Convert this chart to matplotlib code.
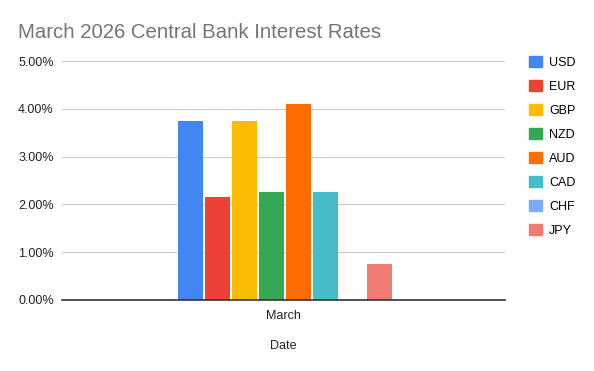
import matplotlib.pyplot as plt
import matplotlib.patches as mpatches
from matplotlib.ticker import FuncFormatter

plt.rcParams['font.family'] = ['Liberation Sans', 'DejaVu Sans']

currencies = ['USD', 'EUR', 'GBP', 'NZD', 'AUD', 'CAD', 'CHF', 'JPY']
rates = [3.75, 2.15, 3.75, 2.25, 4.10, 2.25, 0.0, 0.75]
colors = ['#4285F4', '#EA4335', '#FBBC04', '#34A853', '#FF6D01', '#46BDC6', '#7BAAF7', '#F07B72']
categories = ['March']

fig = plt.figure(figsize=(5.94, 3.71), dpi=100)
W, H = 594, 371
ax = fig.add_axes([62 / W, 1 - 300 / H, (505 - 62) / W, (300 - 61) / H])

slot = 0.1
bar_w = slot * 25 / 27
for i, (cur, r, c) in enumerate(zip(currencies, rates, colors)):
    ax.bar(0 + (i - 3.5) * slot + 0.004, r, bar_w, color=c, label=cur, zorder=3)

half = (443 / 2) / 27 * slot
ax.set_xlim(-half, half)
ax.set_ylim(0, 5)
ax.set_yticks([0, 1, 2, 3, 4, 5])
ax.yaxis.set_major_formatter(FuncFormatter(lambda v, p: '%.2f%%' % v))
ax.set_xticks([0])
ax.set_xticklabels(categories)
ax.grid(axis='y', color='#cccccc', linewidth=0.8, zorder=0)
for s in ['top', 'right', 'left']:
    ax.spines[s].set_visible(False)
ax.spines['bottom'].set_color('#333333')
ax.spines['bottom'].set_linewidth(1.2)
ax.spines['bottom'].set_zorder(4)
ax.tick_params(axis='both', length=0, labelsize=9, colors='#222222', pad=6)
ax.tick_params(axis='x', pad=7)
ax.set_xlabel('Date', fontsize=9, color='#222222', labelpad=13)

fig.text(18 / W, 1 - 33 / H, 'March 2026 Central Bank Interest Rates',
         fontsize=14.7, color='#757575', va='center', ha='left')

handles = [mpatches.Patch(color=c, label=cur) for cur, c in zip(currencies, colors)]
fig.legend(handles=handles, loc='upper left', bbox_to_anchor=(524 / W, 1 - 51 / H),
           frameon=False, fontsize=9, handlelength=1.0, handleheight=1.0,
           handletextpad=0.6, labelspacing=0.89, borderaxespad=0)

fig.savefig('out.png', dpi=100)
